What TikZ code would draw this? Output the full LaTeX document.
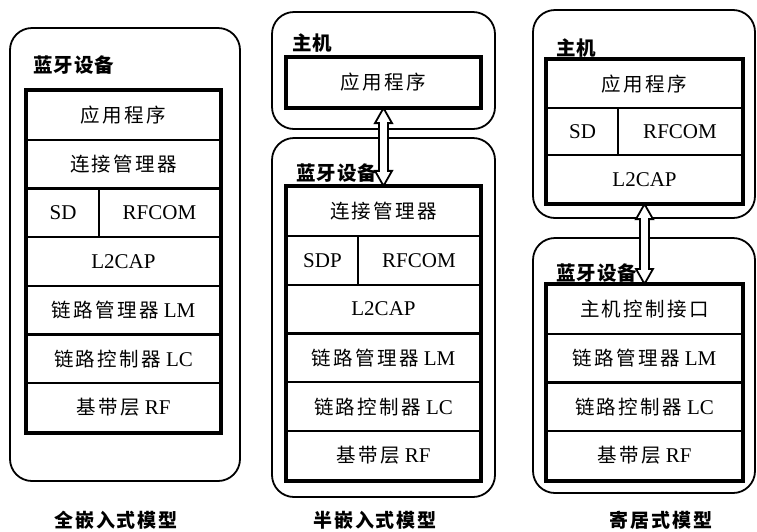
\documentclass[tikz,border=0pt]{standalone}
\usepackage{fontspec}
\setmainfont{Liberation Serif}
\newfontfamily\cjkrow[LetterSpace=12]{Noto Sans CJK SC}
\newfontfamily\cjkhead[LetterSpace=5]{Noto Sans CJK SC}
\newfontfamily\cjkcap[LetterSpace=10]{Noto Sans CJK SC}
\newcommand\zhtxt[1]{{\fontsize{19.5}{20}\selectfont\cjkrow #1}}
\usetikzlibrary{fit,calc}
\tikzset{
  row/.style={draw, line width=2.2pt, inner sep=0pt, font=\fontsize{21}{22}\selectfont},
  frame/.style={draw, line width=3.5pt, inner sep=0pt},
  outerbox/.style={draw, line width=1.8pt, rounded corners=22pt},
  headlabel/.style={anchor=west, inner sep=0pt, font=\fontsize{19.5}{20}\selectfont\cjkhead\bfseries},
  caption/.style={inner sep=0pt, font=\fontsize{19}{20}\selectfont\cjkcap\bfseries},
  hollow/.style={draw, line width=1.8pt, fill=white, line join=miter}
}
\begin{document}
\begin{tikzpicture}[x=1pt,y=-1pt]
\useasboundingbox (0,0) rectangle (757,531);
\fill[white] (0,0) rectangle (757,531);

% ---------------- left: full embedded ----------------
\draw[outerbox] (10,28) rectangle (240,481);
\node[headlabel] (Lhead) at (33,65) {蓝牙设备};
\node[row, minimum width=193pt, minimum height=48.7pt] (L1) at (123.5,115.35) {\zhtxt{应用程序}};
\node[row, minimum width=193pt, minimum height=48.7pt] (L2) at (123.5,164.05) {\zhtxt{连接管理器}};
\node[row, minimum width=72pt, minimum height=48.7pt] (L3a) at (63,212.75) {SD};
\node[row, minimum width=121pt, minimum height=48.7pt] (L3b) at (159.5,212.75) {RFCOM};
\node[row, minimum width=193pt, minimum height=48.7pt] (L4) at (123.5,261.45) {L2CAP};
\node[row, minimum width=193pt, minimum height=48.7pt] (L5) at (123.5,310.15) {\zhtxt{链路管理器} LM};
\node[row, minimum width=193pt, minimum height=48.7pt] (L6) at (123.5,358.85) {\zhtxt{链路控制器} LC};
\node[row, minimum width=193pt, minimum height=48.7pt] (L7) at (123.5,407.55) {\zhtxt{基带层} RF};
\node[frame, fit=(L1)(L7)] (Lframe) {};
\node[caption] (Lcap) at (116,520) {全嵌入式模型};

% ---------------- middle: half embedded ----------------
\draw[outerbox] (272,12) rectangle (495,129);
\draw[outerbox] (272,138) rectangle (495,497);
\node[headlabel] (Mhost) at (292,43) {主机};
\node[row, minimum width=193pt, minimum height=49pt] (Mapp) at (383.5,82.5) {\zhtxt{应用程序}};
\node[frame, fit=(Mapp)] (Mappframe) {};
\node[headlabel] (Mhead) at (296,173) {蓝牙设备};
\node[row, minimum width=193pt, minimum height=48.83pt] (M1) at (383.5,211.4) {\zhtxt{连接管理器}};
\node[row, minimum width=71pt, minimum height=48.83pt] (M2a) at (322.5,260.25) {SDP};
\node[row, minimum width=122pt, minimum height=48.83pt] (M2b) at (419,260.25) {RFCOM};
\node[row, minimum width=193pt, minimum height=48.83pt] (M3) at (383.5,309.1) {L2CAP};
\node[row, minimum width=193pt, minimum height=48.83pt] (M4) at (383.5,357.9) {\zhtxt{链路管理器} LM};
\node[row, minimum width=193pt, minimum height=48.83pt] (M5) at (383.5,406.75) {\zhtxt{链路控制器} LC};
\node[row, minimum width=193pt, minimum height=48.83pt] (M6) at (383.5,455.6) {\zhtxt{基带层} RF};
\node[frame, fit=(M1)(M6)] (Mframe) {};
\node[caption] (Mcap) at (375,520) {半嵌入式模型};
% double arrow between host app and connection manager
\draw[hollow] let \p1=(Mapp.south), \p2=(M1.north) in
  (\x1,\y1) -- (\x1+8.5pt,\y1-15pt) -- (\x1+4.5pt,\y1-15pt) -- (\x1+4.5pt,\y2+15pt)
  -- (\x1+8.5pt,\y2+15pt) -- (\x1,\y2) -- (\x1-8.5pt,\y2+15pt) -- (\x1-4.5pt,\y2+15pt)
  -- (\x1-4.5pt,\y1-15pt) -- (\x1-8.5pt,\y1-15pt) -- cycle;

% ---------------- right: hosted ----------------
\draw[outerbox] (533,10) rectangle (755,218);
\draw[outerbox] (533,238) rectangle (755,493);
\node[headlabel] (Rhost) at (556,48) {主机};
\node[row, minimum width=195pt, minimum height=47.67pt] (R1) at (644.5,83.83) {\zhtxt{应用程序}};
\node[row, minimum width=71pt, minimum height=47.67pt] (R2a) at (582.5,131.5) {SD};
\node[row, minimum width=124pt, minimum height=47.67pt] (R2b) at (680,131.5) {RFCOM};
\node[row, minimum width=195pt, minimum height=47.67pt] (R3) at (644.5,179.17) {L2CAP};
\node[frame, fit=(R1)(R3)] (Rhframe) {};
\node[headlabel] (Rhead) at (556,273) {蓝牙设备};
\node[row, minimum width=195pt, minimum height=48.75pt] (D1) at (644.5,309.4) {\zhtxt{主机控制接口}};
\node[row, minimum width=195pt, minimum height=48.75pt] (D2) at (644.5,358.1) {\zhtxt{链路管理器} LM};
\node[row, minimum width=195pt, minimum height=48.75pt] (D3) at (644.5,406.9) {\zhtxt{链路控制器} LC};
\node[row, minimum width=195pt, minimum height=48.75pt] (D4) at (644.5,455.6) {\zhtxt{基带层} RF};
\node[frame, fit=(D1)(D4)] (Rdframe) {};
\node[caption] (Rcap) at (661,520) {寄居式模型};
\draw[hollow] let \p1=(R3.south), \p2=(D1.north) in
  (\x1,\y1) -- (\x1+8.5pt,\y1-15pt) -- (\x1+4.5pt,\y1-15pt) -- (\x1+4.5pt,\y2+15pt)
  -- (\x1+8.5pt,\y2+15pt) -- (\x1,\y2) -- (\x1-8.5pt,\y2+15pt) -- (\x1-4.5pt,\y2+15pt)
  -- (\x1-4.5pt,\y1-15pt) -- (\x1-8.5pt,\y1-15pt) -- cycle;
\end{tikzpicture}
\end{document}
